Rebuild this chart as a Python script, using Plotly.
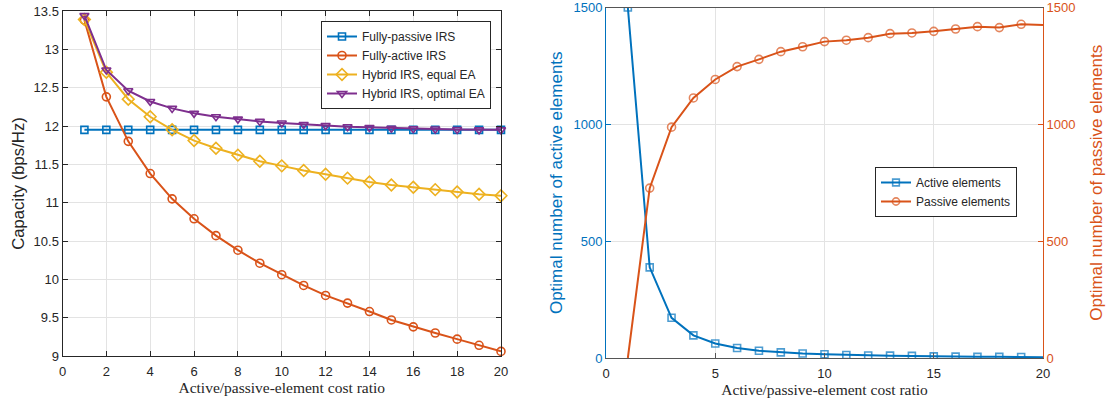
import plotly.graph_objects as go

# ---------------- data ----------------
ratio = list(range(1, 21))

fully_passive = [11.95] * 20
fully_active = [13.38, 12.38, 11.80, 11.38, 11.05, 10.79, 10.57, 10.38, 10.21, 10.06,
                9.92, 9.79, 9.69, 9.58, 9.47, 9.38, 9.30, 9.22, 9.14, 9.06]
hybrid_equal = [13.39, 12.70, 12.35, 12.12, 11.95, 11.81, 11.71, 11.62, 11.54, 11.48,
                11.42, 11.37, 11.32, 11.27, 11.23, 11.20, 11.17, 11.14, 11.11, 11.09]
hybrid_optimal = [13.44, 12.73, 12.46, 12.32, 12.23, 12.165, 12.12, 12.09, 12.06, 12.04,
                  12.02, 12.005, 11.99, 11.98, 11.97, 11.965, 11.96, 11.955, 11.95, 11.95]

active_elems = [1500, 388, 172, 97, 62, 43, 31, 24, 19, 16,
                13, 11, 10, 9, 7, 6, 5, 5, 4, 3]
passive_elems = [0, 727, 988, 1113, 1192, 1247, 1278, 1311, 1332, 1354,
                 1360, 1371, 1388, 1391, 1398, 1408, 1418, 1414, 1428, 1425]

left_xticks = list(range(0, 21, 2))
left_yticks = [9, 9.5, 10, 10.5, 11, 11.5, 12, 12.5, 13, 13.5]
right_xticks = [0, 5, 10, 15, 20]
right_yticks = [0, 500, 1000, 1500]

BLUE = "#0072BD"
ORANGE = "#D95319"
YELLOW = "#EDB120"
PURPLE = "#7E2F8E"
GRID = "#e3e3e3"
TXT = "#262626"
SANS = "Liberation Sans, Arial, sans-serif"
SERIF = "Liberation Serif, DejaVu Serif, serif"

fig = go.Figure()

def add_left(y, name, color, symbol, size):
    fig.add_trace(go.Scatter(
        x=ratio, y=y, name=name, mode="lines+markers",
        line=dict(color=color, width=2),
        marker=dict(symbol=symbol, size=size, color=color, line=dict(width=1.6, color=color)),
        xaxis="x", yaxis="y", legend="legend", cliponaxis=False))

add_left(fully_passive, "Fully-passive IRS", BLUE, "square-open", 7)
add_left(fully_active, "Fully-active IRS", ORANGE, "circle-open", 8)
add_left(hybrid_equal, "Hybrid IRS, equal EA", YELLOW, "diamond-open", 9)
add_left(hybrid_optimal, "Hybrid IRS, optimal EA", PURPLE, "triangle-down-open", 8)

act_sizes = [7] * 19 + [0]
pas_sizes = [0] + [8] * 18 + [0]
fig.add_trace(go.Scatter(
    x=ratio, y=active_elems, name="Active elements", mode="lines+markers",
    line=dict(color=BLUE, width=2),
    marker=dict(symbol="square-open", size=act_sizes, color=BLUE, line=dict(width=1.6, color=BLUE)),
    xaxis="x2", yaxis="y2", legend="legend2"))
fig.add_trace(go.Scatter(
    x=ratio, y=passive_elems, name="Passive elements", mode="lines+markers",
    line=dict(color=ORANGE, width=2),
    marker=dict(symbol="circle-open", size=pas_sizes, color=ORANGE, line=dict(width=1.6, color=ORANGE)),
    xaxis="x2", yaxis="y3", legend="legend2"))

# page body margin is removed below, so figure pixels == window pixels
W, H = 1108, 404
def px(x):
    return x / W
def py(y):
    return (H - y) / H

axis_common = dict(ticks="inside", ticklen=5, showline=True, linewidth=1,
                   zeroline=False, showgrid=True, gridcolor=GRID, gridwidth=1,
                   automargin=False, ticklabeloverflow="allow")

fig.update_layout(
    width=W, height=H,
    margin=dict(l=0, r=0, t=0, b=0),
    paper_bgcolor="white", plot_bgcolor="white",
    font=dict(family=SANS, size=13, color=TXT),
    xaxis=dict(domain=[px(62.5), px(501)], range=[0, 20], tickvals=left_xticks,
               linecolor=TXT, tickcolor=TXT, mirror="allticks", anchor="y",
               tickfont=dict(size=13, color=TXT), ticklabelstandoff=3,
               title=dict(text="Active/passive-element cost ratio",
                          font=dict(family=SERIF, size=15.5, color=TXT), standoff=2),
               **axis_common),
    yaxis=dict(domain=[py(356), py(11)], range=[9, 13.5], tickvals=left_yticks,
               ticktext=[("%g" % v) for v in left_yticks],
               linecolor=TXT, tickcolor=TXT, mirror="allticks", anchor="x",
               tickfont=dict(size=13, color=TXT),
               title=dict(text="Capacity (bps/Hz)", font=dict(size=16.7, color=TXT), standoff=4),
               **axis_common),
    xaxis2=dict(domain=[px(606), px(1043)], range=[0, 20], tickvals=right_xticks,
                linecolor="#555555", tickcolor="#555555", mirror=True, anchor="y2",
                tickfont=dict(size=13, color=TXT), ticklabelstandoff=3,
                title=dict(text="Active/passive-element cost ratio",
                           font=dict(family=SERIF, size=15.5, color=TXT), standoff=2),
                **axis_common),
    yaxis2=dict(domain=[py(358), py(7.5)], range=[0, 1500], tickvals=right_yticks,
                linecolor=BLUE, tickcolor=BLUE, anchor="x2",
                tickfont=dict(size=13, color=BLUE),
                title=dict(text="Optimal number of active elements",
                           font=dict(size=17, color=BLUE), standoff=6),
                **axis_common),
    yaxis3=dict(range=[0, 1500], tickvals=right_yticks, overlaying="y2", side="right",
                anchor="x2", linecolor=ORANGE, tickcolor=ORANGE, ticks="inside", ticklen=5,
                showline=True, linewidth=1, showgrid=False, zeroline=False, automargin=False,
                ticklabeloverflow="allow",
                tickfont=dict(size=13, color=ORANGE),
                title=dict(text="Optimal number of passive elements",
                           font=dict(size=17, color=ORANGE), standoff=15)),
    legend=dict(x=px(491), y=py(21), xanchor="right", yanchor="top",
                bgcolor="white", bordercolor="#262626", borderwidth=1,
                font=dict(size=12, color=TXT), tracegroupgap=0, itemwidth=30),
    legend2=dict(x=px(1017), y=py(167), xanchor="right", yanchor="top",
                 bgcolor="white", bordercolor="#262626", borderwidth=1,
                 font=dict(size=12, color=TXT), tracegroupgap=0, itemwidth=30),
    showlegend=True,
)

fig.write_html("out.html", config={"displayModeBar": False},
               post_script="document.body.style.margin='0px';document.body.style.overflow='hidden';")
